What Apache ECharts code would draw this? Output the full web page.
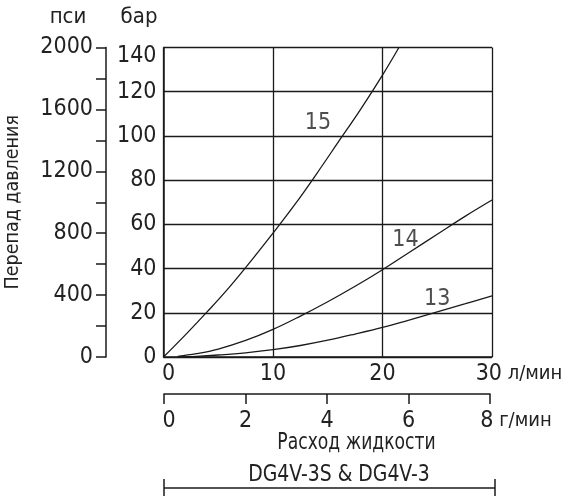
<!DOCTYPE html>
<html><head><meta charset="utf-8">
<script src="https://cdn.jsdelivr.net/npm/echarts@6/dist/echarts.min.js"></script>
<style>html,body{margin:0;padding:0;background:#fff}#c{width:565px;height:497px}</style>
</head><body><div id="c"></div>
<script>
// Curve 15
const flow15 = [0, 2, 4, 6, 8, 10, 12, 14, 16, 18, 20, 21.5];
const dp15   = [0, 10, 20.5, 31.5, 43.5, 56, 69, 83, 97.5, 112, 127.5, 140];
// Curve 14
const flow14 = [1.3, 3, 5, 7.5, 10, 12.5, 15, 17.5, 20, 22.5, 25, 27.5, 30];
const dp14   = [0.3, 1.5, 3.6, 7.5, 12.5, 18.5, 25, 32, 39.5, 47.5, 55.5, 63.5, 71];
// Curve 13
const flow13 = [1.3, 3, 5, 7.5, 10, 12.5, 15, 17.5, 20, 22.5, 25, 27.5, 30];
const dp13   = [0, 0.3, 0.9, 1.9, 3.3, 5.2, 7.6, 10.4, 13.4, 16.8, 20.4, 24, 27.7];
// Curve labels
const curveNames = ['15', '14', '13'];
const labelFlow = [14.1, 22.1, 25.0];
const labelDp = [106, 52.8, 26.2];
// Axis ticks
const barTicks = [0, 20, 40, 60, 80, 100, 120, 140];
const psiLabels = [0, 400, 800, 1200, 1600, 2000];
const lpmTicks = [0, 10, 20, 30];
const gpmTicks = [0, 2, 4, 6, 8];

const FONT = '"Liberation Sans Narrow","DejaVu Sans Condensed","Roboto",sans-serif';
const TXT = '#222';
const LINE = '#1a1a1a';

function pairs(xs, ys) { return xs.map((x, i) => [x, ys[i]]); }

const chart = echarts.init(document.getElementById('c'), null, {renderer: 'canvas'});
chart.setOption({
  animation: false,
  textStyle: {fontFamily: FONT, color: TXT},
  grid: [
    {left: 163.5, top: 47.5, width: 328.5, height: 309.5, outerBoundsMode: 'none', containLabel: false},
    {left: 164, top: 393, width: 326, height: 1, outerBoundsMode: 'none', containLabel: false}
  ],
  xAxis: [
    {gridIndex: 0, type: 'value', min: lpmTicks[0], max: lpmTicks[lpmTicks.length - 1], interval: 10,
     axisLine: {show: true, lineStyle: {color: LINE, width: 1.5}},
     axisTick: {show: false},
     splitLine: {show: true, lineStyle: {color: LINE, width: 1.3}},
     axisLabel: {fontFamily: FONT, fontSize: 23, color: TXT, margin: 6,
       formatter: v => v === 30 ? '{p|}30{u| л/мин}' : (v === 0 ? '{q|}0' : String(v)),
       rich: {p: {width: 54}, q: {width: 10},
              u: {fontFamily: FONT, fontSize: 20, color: TXT, verticalAlign: 'middle', padding: [0, 0, 1, 0]}}}
    },
    {gridIndex: 1, type: 'value', min: gpmTicks[0], max: gpmTicks[gpmTicks.length - 1], interval: 2,
     position: 'bottom',
     axisLine: {show: true, lineStyle: {color: LINE, width: 1.5}},
     axisTick: {show: true, length: 10, lineStyle: {color: LINE, width: 1.5}},
     splitLine: {show: false},
     axisLabel: {fontFamily: FONT, fontSize: 23, color: TXT, margin: 16,
       formatter: v => v === 8 ? '{p|}8{u| г/мин}' : (v === 0 ? '{q|}0' : String(v)),
       rich: {p: {width: 52}, q: {width: 10},
              u: {fontFamily: FONT, fontSize: 20, color: TXT, verticalAlign: 'middle', padding: [0, 0, 1, 0]}}}
    }
  ],
  yAxis: [
    {gridIndex: 0, type: 'value', min: 0, max: 140, interval: 20, position: 'left',
     name: 'бар', nameLocation: 'end', nameGap: 19,
     nameTextStyle: {fontFamily: FONT, fontSize: 22, color: TXT, align: 'right', padding: [0, 6, 0, 0]},
     axisLine: {show: true, lineStyle: {color: LINE, width: 1.5}},
     axisTick: {show: false},
     splitLine: {show: true, lineStyle: {color: LINE, width: 1.3}},
     axisLabel: {fontFamily: FONT, fontSize: 23, color: TXT, margin: 7,
       formatter: v => v === 140 ? '{t|140}' : String(v),
       rich: {t: {fontFamily: FONT, fontSize: 23, color: TXT, padding: [18, 0, 0, 0]}}}
    },
    {gridIndex: 0, type: 'value', min: 0, max: 2000, interval: 200, position: 'left', offset: 57.5,
     name: 'Перепад давления', nameLocation: 'middle', nameGap: 83,
     nameTextStyle: {fontFamily: FONT, fontSize: 19.5, color: TXT},
     axisLine: {show: true, lineStyle: {color: LINE, width: 1.5}},
     axisTick: {show: true, length: 10, lineStyle: {color: LINE, width: 1.5}},
     splitLine: {show: false},
     axisLabel: {fontFamily: FONT, fontSize: 23, color: TXT, margin: 13,
       formatter: v => psiLabels.includes(v) ? String(v) : ''}
    },
    {gridIndex: 1, type: 'value', show: false, min: 0, max: 1}
  ],
  graphic: [
    {type: 'text', x: 68, y: 17, style: {text: 'пси', font: '22px ' + FONT, fill: TXT, align: 'center', verticalAlign: 'middle'}},
    {type: 'text', x: 356.5, y: 443, scaleX: 0.83, style: {text: 'Расход жидкости', font: '23px ' + FONT, fill: TXT, align: 'center', verticalAlign: 'middle'}},
    {type: 'text', x: 339, y: 475, scaleX: 0.91, style: {text: 'DG4V-3S & DG4V-3', font: '23px ' + FONT, fill: TXT, align: 'center', verticalAlign: 'middle'}},
    {type: 'line', shape: {x1: 164, y1: 488, x2: 495, y2: 488}, style: {stroke: LINE, lineWidth: 1.5}},
    {type: 'line', shape: {x1: 164, y1: 479, x2: 164, y2: 496}, style: {stroke: LINE, lineWidth: 1.5}},
    {type: 'line', shape: {x1: 495, y1: 479, x2: 495, y2: 496}, style: {stroke: LINE, lineWidth: 1.5}}
  ],
  series: [
    {type: 'line', xAxisIndex: 0, yAxisIndex: 0, data: pairs(flow15, dp15), smooth: 0.4, showSymbol: false,
     lineStyle: {color: LINE, width: 1.3}},
    {type: 'line', xAxisIndex: 0, yAxisIndex: 0, data: pairs(flow14, dp14), smooth: 0.4, showSymbol: false,
     lineStyle: {color: LINE, width: 1.3}},
    {type: 'line', xAxisIndex: 0, yAxisIndex: 0, data: pairs(flow13, dp13), smooth: 0.4, showSymbol: false,
     lineStyle: {color: LINE, width: 1.3}},
    {type: 'scatter', xAxisIndex: 0, yAxisIndex: 0, symbolSize: 0,
     data: curveNames.map((n, i) => [labelFlow[i], labelDp[i], n]),
     label: {show: true, position: 'inside', formatter: p => p.value[2],
       fontFamily: FONT, fontSize: 23, color: TXT}}
  ]
});
</script></body></html>
